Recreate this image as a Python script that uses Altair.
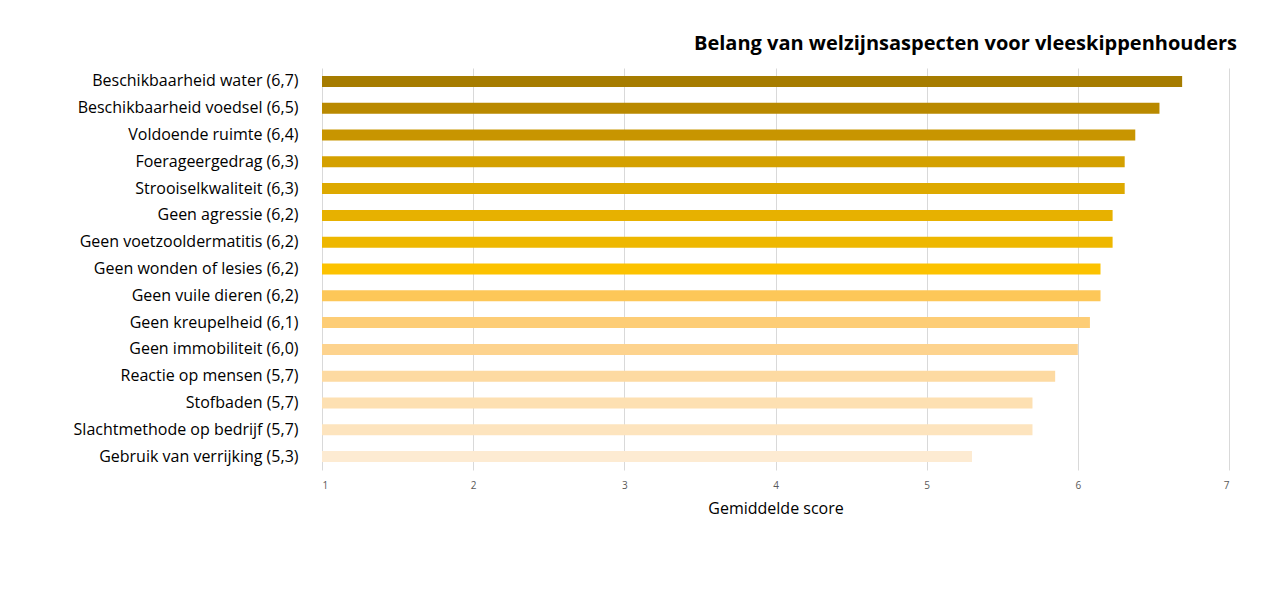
import altair as alt
import pandas as pd

labels = [
    "Beschikbaarheid water (6,7)",
    "Beschikbaarheid voedsel (6,5)",
    "Voldoende ruimte (6,4)",
    "Foerageergedrag (6,3)",
    "Strooiselkwaliteit (6,3)",
    "Geen agressie (6,2)",
    "Geen voetzooldermatitis (6,2)",
    "Geen wonden of lesies (6,2)",
    "Geen vuile dieren (6,2)",
    "Geen kreupelheid (6,1)",
    "Geen immobiliteit  (6,0)",
    "Reactie op mensen (5,7)",
    "Stofbaden (5,7)",
    "Slachtmethode op bedrijf (5,7)",
    "Gebruik van verrijking (5,3)",
]
scores = [6.69, 6.54, 6.38, 6.31, 6.31, 6.23, 6.23, 6.15, 6.15, 6.08, 6.00, 5.85, 5.70, 5.70, 5.30]
colors = [
    "#A67C00", "#B98900", "#C89500", "#D4A000", "#DDA900",
    "#E7B100", "#EEB700", "#FCC200", "#FDC758", "#FDCD76",
    "#FDD38E", "#FDDAA2", "#FDE0B2", "#FDE4BE", "#FDEBD2",
]

df = pd.DataFrame({"label": labels, "score": scores})

chart = alt.Chart(df).mark_bar(size=11).encode(
    x=alt.X("score:Q",
            scale=alt.Scale(domain=[1, 7], nice=False, zero=False),
            axis=alt.Axis(values=[1, 2, 3, 4, 5, 6, 7], title="Gemiddelde score",
                          domain=False, ticks=False, grid=True, gridColor="#D9D9D9",
                          labelFontSize=10, labelColor="#595959", labelPadding=10,
                          labelFont="Open Sans", titleFont="Open Sans", titleFontSize=16,
                          titleFontWeight="normal", titleColor="#000000", titlePadding=10)),
    x2=alt.datum(1),
    y=alt.Y("label:N", sort=labels,
            axis=alt.Axis(title=None, domain=False, ticks=False, labelFontSize=16,
                          labelFont="Open Sans", labelColor="#000000", labelPadding=24,
                          labelLimit=400)),
    color=alt.Color("label:N", scale=alt.Scale(domain=labels, range=colors), legend=None),
).properties(
    width=907,
    height=402,
    title=alt.TitleParams("Belang van welzijnsaspecten voor vleeskippenhouders",
                          anchor="end", fontSize=20, font="Open Sans", fontWeight="bold",
                          color="#000000", offset=14, dx=8),
    autosize=alt.AutoSizeParams(type="none"),
    padding={"left": 322, "top": 68, "right": 51, "bottom": 143},
).configure(background="white").configure_view(stroke=None, strokeWidth=0)

chart.save("out.html", embed_options={"renderer": "svg", "actions": False})
